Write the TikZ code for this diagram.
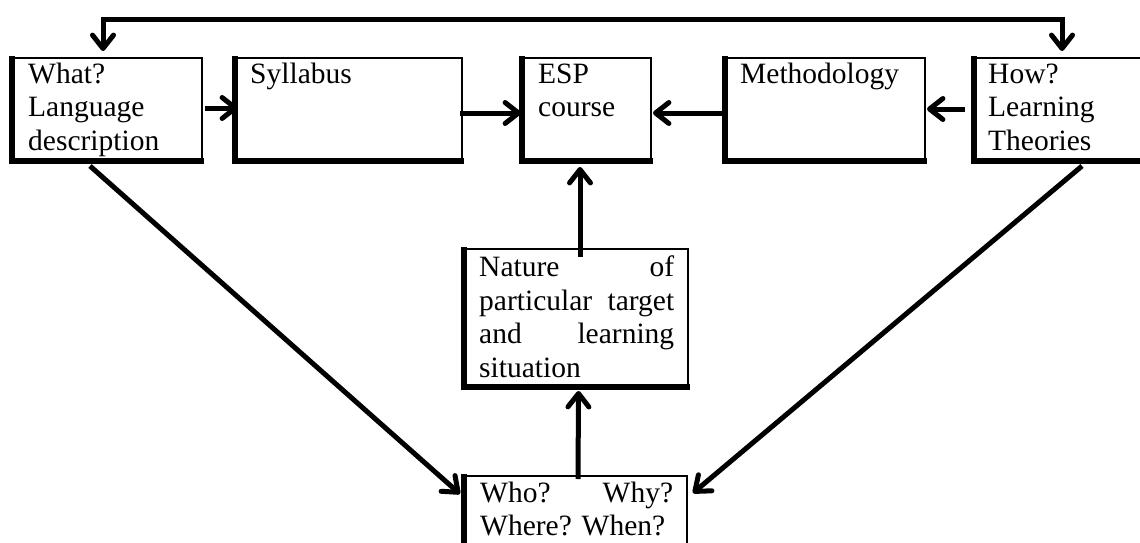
\documentclass[tikz,border=0pt]{standalone}
\usepackage{fontspec}
\setmainfont{Liberation Serif}
\usetikzlibrary{calc}
\newcommand\thickL[1]{\draw[line width=6pt] ([shift={(2pt,1pt)}]#1.north west) -- ([shift={(2pt,2pt)}]#1.south west) -- ([shift={(1pt,2pt)}]#1.south east);}
% #1 start coordinate name, #2 end coordinate name
\newcommand\conn[2]{\draw[arr] (#1) -- (#2);\draw[head] ($(#2)!17pt!38:(#1)$) -- (#2) -- ($(#2)!17pt!-38:(#1)$);}
\begin{document}
\begin{tikzpicture}[x=1pt,y=-1pt,
  box/.style={draw, line width=2pt, inner sep=0pt, minimum height=104pt},
  txt/.style={anchor=north west, inner sep=0pt, align=left, font=\fontsize{29.5pt}{33.5pt}\selectfont\frenchspacing},
  arr/.style={line width=5pt},
  head/.style={line width=5pt, line cap=round, line join=round}]
\useasboundingbox (0,0) rectangle (1140,543);
\clip (0,0) rectangle (1140,543);
% boxes
\node[box, minimum width=191pt] (what) at (106.5,110) {};
\node[box, minimum width=228pt] (syl) at (348,110) {};
\node[box, minimum width=130pt] (esp) at (586,110) {};
\node[box, minimum width=201pt] (meth) at (824.5,110) {};
\node[box, minimum width=176pt] (how) at (1061,110) {};
\node[box, minimum width=225pt, minimum height=139pt] (nature) at (575.5,318.5) {};
\node[box, minimum width=224pt, minimum height=83pt] (who) at (575,517.5) {};
\thickL{what}\thickL{syl}\thickL{esp}\thickL{meth}\thickL{how}\thickL{nature}\thickL{who}
% texts
\node[txt] (whatT) at (28,59.55) {\strut What?\\Language\\description};
\node[txt] (sylT) at (250,59.55) {\strut Syllabus};
\node[txt] (espT) at (538,59.55) {\strut ESP\\course};
\node[txt] (methT) at (740,59.55) {\strut Methodology};
\node[txt] (howT) at (988,59.55) {\strut How?\\Learning\\Theories};
\node[txt, text width=195pt] (natT) at (479,253.2) {\strut Nature\hfill of\\particular\hfill target\\and\hfill learning\\situation};
\node[txt, text width=193pt] (whoT) at (480,478.5) {\strut Who?\hfill Why?\\Where? When?};
% connector end points
\coordinate (t1) at ([shift={(-3.5pt,8.5pt)}]what.north);
\coordinate (t2) at ([shift={(1pt,8.5pt)}]how.north);
\coordinate (a2s) at ([shift={(2pt,2pt)}]what.east);
\coordinate (a2e) at ([shift={(2.5pt,2pt)}]syl.west);
\coordinate (a3s) at ([shift={(-3pt,-3pt)}]syl.east);
\coordinate (a3e) at ([shift={(-1.5pt,-3pt)}]esp.west);
\coordinate (a4s) at ([shift={(-1pt,-3pt)}]meth.west);
\coordinate (a4e) at ([shift={(3.5pt,-3pt)}]esp.east);
\coordinate (a5s) at ([shift={(-7pt,1pt)}]how.west);
\coordinate (a5e) at ([shift={(3.5pt,1pt)}]meth.east);
\coordinate (a6s) at ([shift={(4.5pt,-9pt)}]nature.north);
\coordinate (a6e) at ([shift={(-6pt,-6.5pt)}]esp.south);
\coordinate (a7s) at ([shift={(3pt,-4pt)}]who.north);
\coordinate (a7e) at ([shift={(3pt,-4.5pt)}]nature.south);
\coordinate (a8s) at ([shift={(-16.5pt,-3pt)}]what.south);
\coordinate (a8e) at ([shift={(-3.9pt,25.2pt)}]who.west);
\coordinate (a9s) at ([shift={(21pt,-3pt)}]how.south);
\coordinate (a9e) at ([shift={(6.9pt,26.1pt)}]who.east);
% connectors
\draw[arr] (t1) -- ++(0,-28.5) -| (t2);
\draw[head] ($(t1)+(-10.5,-13.4)$) -- (t1) -- ($(t1)+(10.5,-13.4)$);
\draw[head] ($(t2)+(-10.5,-13.4)$) -- (t2) -- ($(t2)+(10.5,-13.4)$);
\conn{a2s}{a2e}
\conn{a3s}{a3e}
\conn{a4s}{a4e}
\conn{a5s}{a5e}
\conn{a6s}{a6e}
\conn{a7s}{a7e}
\conn{a8s}{a8e}
\conn{a9s}{a9e}
\end{tikzpicture}
\end{document}
